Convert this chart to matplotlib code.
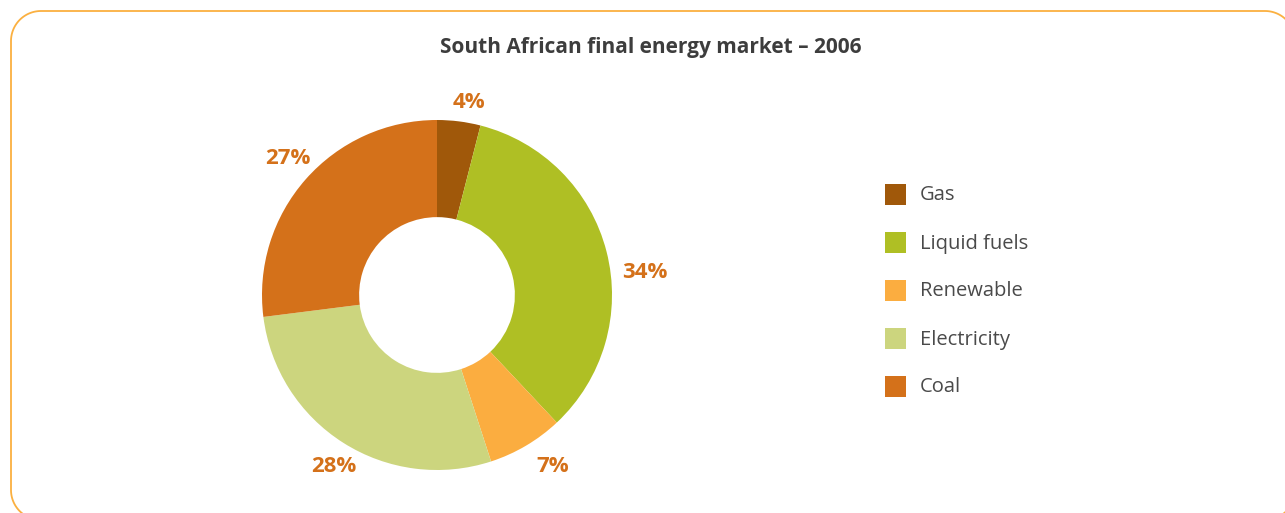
import numpy as np
import matplotlib.pyplot as plt

# data
categories = ['Gas', 'Liquid fuels', 'Renewable', 'Electricity', 'Coal']
shares = [4, 34, 7, 28, 27]
colors = ['#A0580A', '#AFBF24', '#FBAD40', '#CCD57E', '#D4711A']

# label positions (in pie radius units)
label_pos = [(0.18, 1.10), (1.19, 0.13), (0.66, -0.98), (-0.59, -0.98), (-0.85, 0.78)]

W, H = 1285, 513
fig = plt.figure(figsize=(W / 100, H / 100), dpi=100)
plt.rcParams['font.family'] = ['Open Sans', 'DejaVu Sans']

# background axes in pixel units (y measured from the bottom)
bg = fig.add_axes([0, 0, 1, 1])
bg.set_xlim(0, W)
bg.set_ylim(0, H)
bg.axis('off')


def rounded_rect(x0, y0, x1, y1, r, n=30):
    xs, ys = [], []
    corners = [(x1 - r, y1 - r, 0), (x0 + r, y1 - r, 90),
               (x0 + r, y0 + r, 180), (x1 - r, y0 + r, 270)]
    for cx_, cy_, a0 in corners:
        t = np.radians(np.linspace(a0, a0 + 90, n))
        xs.extend(cx_ + r * np.cos(t))
        ys.extend(cy_ + r * np.sin(t))
    xs.append(xs[0])
    ys.append(ys[0])
    return xs, ys


# rounded frame (runs off the right/bottom edge)
fx, fy = rounded_rect(11, H - 520, 1295, H - 11, 30)
bg.plot(fx, fy, color='#FBB040', lw=1.3, clip_on=False)

bg.text(651, H - 47, 'South African final energy market \u2013 2006',
        ha='center', va='center', fontsize=15, fontweight='bold', color='#3d3d3d')

# legend
for i, (name, c) in enumerate(zip(categories, colors)):
    y = H - (194.5 + i * 48)
    bg.add_patch(plt.Rectangle((885, y - 10.5), 21, 21, facecolor=c, edgecolor='none'))
    bg.text(920, y - 1, name, ha='left', va='center', fontsize=14.5, color='#4a4a4a')

cx, cy, R = 437, 295, 175
ax = fig.add_axes([(cx - R) / W, (H - cy - R) / H, 2 * R / W, 2 * R / H])
wedges, _ = ax.pie(shares, colors=colors, startangle=90, counterclock=False,
                   radius=1, wedgeprops=dict(width=0.555, edgecolor='none'))
ax.set_xlim(-1, 1)
ax.set_ylim(-1, 1)
ax.set_aspect('equal')
ax.axis('off')

for v, (x, y) in zip(shares, label_pos):
    ax.text(x, y, f'{v}%', ha='center', va='center', fontsize=16,
            fontweight='bold', color='#D4711A', clip_on=False)

fig.savefig('out.png', dpi=100)
